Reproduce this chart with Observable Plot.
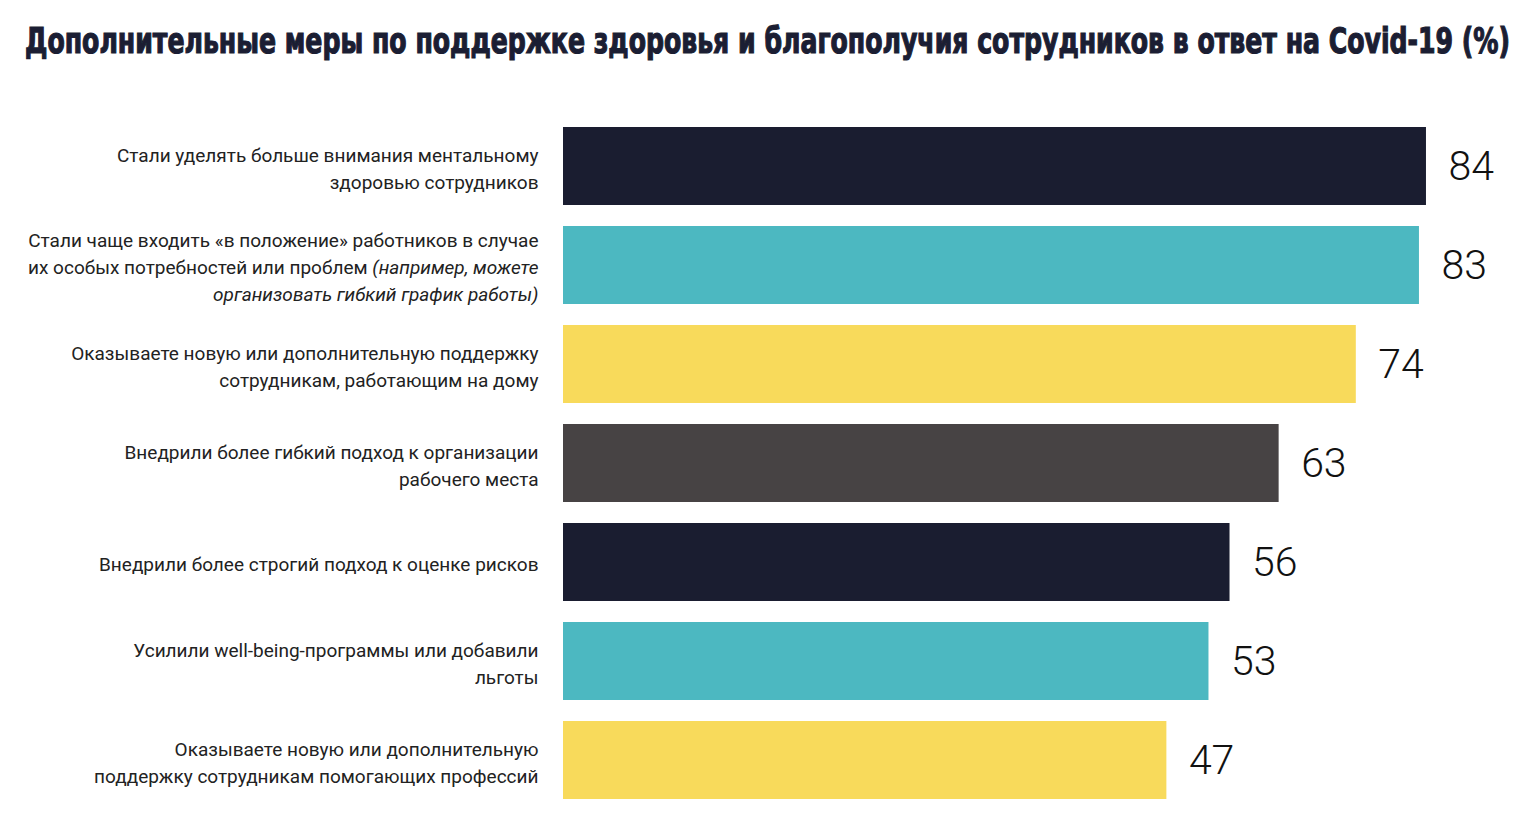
<!DOCTYPE html>
<html><head><meta charset="utf-8">
<script src="https://cdn.jsdelivr.net/npm/d3@7"></script>
<script src="https://cdn.jsdelivr.net/npm/@observablehq/plot@0.6"></script>
<style>
body{margin:0;background:#fff;width:1525px;height:829px;overflow:hidden}
#title{height:90px;position:relative}
#t{position:absolute;left:25px;top:23px;font-family:"DejaVu Sans Condensed","DejaVu Sans",sans-serif;font-weight:bold;font-size:36px;color:#1b1e33;-webkit-text-stroke:1.2px #1b1e33;white-space:nowrap;transform-origin:0 0;line-height:1}
#chart svg{display:block}
</style></head><body>
<div id="title"><span id="t">Дополнительные меры по поддержке здоровья и благополучия сотрудников в ответ на Covid-19 (%)</span></div>
<div id="chart"></div>
<script>
const categories = [
  "Стали уделять больше внимания ментальному\nздоровью сотрудников",
  "Стали чаще входить «в положение» работников в случае\nих особых потребностей или проблем (например, можете\nорганизовать гибкий график работы)",
  "Оказываете новую или дополнительную поддержку\nсотрудникам, работающим на дому",
  "Внедрили более гибкий подход к организации\nрабочего места",
  "Внедрили более строгий подход к оценке рисков",
  "Усилили well-being-программы или добавили\nльготы",
  "Оказываете новую или дополнительную\nподдержку сотрудникам помогающих профессий"
];
const values = [84, 83, 74, 63, 56, 53, 47];
const colors = ["#1a1d30", "#4cb8c1", "#f8da5b", "#474344", "#1a1d30", "#4cb8c1", "#f8da5b"];
const italicParts = ["(например, можете", "организовать гибкий график работы)"];
const xDomain = [-39, 86];

const data = categories.map((c, i) => ({label: c, value: values[i], color: colors[i]}));

const chart = Plot.plot({
  width: 1525, height: 739,
  marginTop: 16, marginBottom: 9, marginLeft: 563, marginRight: 85,
  x: {domain: xDomain, axis: null},
  y: {domain: categories, padding: 0.212, axis: null},
  color: {type: "identity"},
  marks: [
    Plot.barX(data, {x1: xDomain[0], x2: "value", y: "label", fill: "color"}),
    Plot.text(data, {x: xDomain[0], y: "label", text: "label", textAnchor: "end", dx: -25,
      fontSize: 19, lineHeight: 1.42, fill: "#222", fontFamily: "Roboto", className: "cat"}),
    Plot.text(data, {x: "value", y: "label", text: d => String(d.value), textAnchor: "start", dx: 22,
      fontSize: 41, fontWeight: 300, fill: "#111", fontFamily: "Roboto"})
  ]
});
document.getElementById("chart").appendChild(chart);

// italic fragments
chart.querySelectorAll(".cat tspan").forEach(ts => {
  const txt = ts.textContent;
  for (const part of italicParts) {
    const k = txt.indexOf(part);
    if (k >= 0) {
      ts.textContent = txt.slice(0, k);
      const it = document.createElementNS("http://www.w3.org/2000/svg", "tspan");
      it.setAttribute("font-style", "italic");
      it.textContent = part;
      ts.appendChild(it);
      break;
    }
  }
});

// fit title width
const t = document.getElementById("t");
const w = t.getBoundingClientRect().width;
t.style.transform = `scaleX(${1485 / w})`;
</script>
</body></html>
